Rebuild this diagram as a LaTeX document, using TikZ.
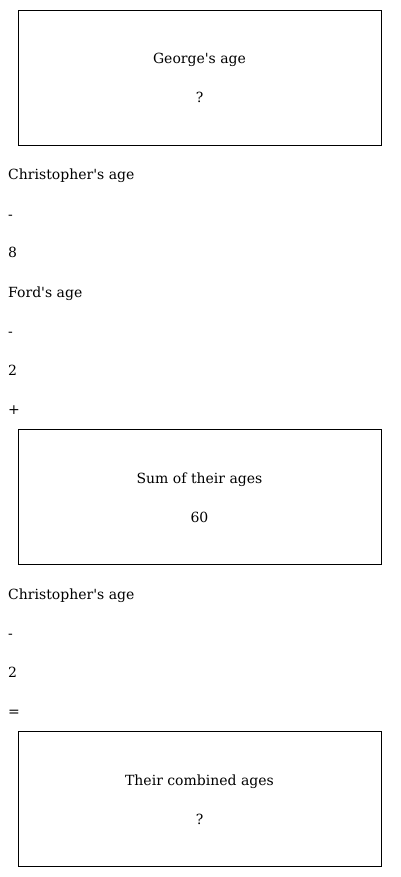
\documentclass[tikz,border=0pt]{standalone}
\usepackage{fontspec}
\setmainfont{DejaVu Serif}
\usepackage{tikz}
\usetikzlibrary{positioning}
\tikzset{
  agebox/.style={draw=black, thick, minimum width=363pt, minimum height=135pt, inner sep=0pt},
  boxtxt/.style={font=\fontsize{14}{16}\selectfont, inner sep=0pt, anchor=base},
  steptxt/.style={font=\fontsize{14}{16}\selectfont, anchor=base west, inner sep=0pt},
}
\newcommand{\apos}{\textquotesingle}

\begin{document}
\begin{tikzpicture}[x=1pt, y=-1pt]
  \useasboundingbox (0,0) rectangle (400,877);
  % first box
  \node[agebox] (george) at (199.5,77.5) {};
  \node[boxtxt] (georgeT) at (199.5,64) {George\apos s age};
  \node[boxtxt] (georgeV) at (199.5,103) {?};
  % expression for the sum
  \node[steptxt] (chrisA) at (8,180) {Christopher\apos s age};
  \node[steptxt] (minA) at (8,220) {-};
  \node[steptxt] (eight) at (8,258) {8};
  \node[steptxt] (ford) at (8,297) {Ford\apos s age};
  \node[steptxt] (minB) at (8,336) {-};
  \node[steptxt] (twoA) at (8,375) {2};
  \node[steptxt] (plus) at (8,414) {+};
  % second box
  \node[agebox] (sum) at (199.5,496.5) {};
  \node[boxtxt] (sumT) at (199.5,483) {Sum of their ages};
  \node[boxtxt] (sumV) at (199.5,522) {60};
  % second expression
  \node[steptxt] (chrisB) at (8,599) {Christopher\apos s age};
  \node[steptxt] (minC) at (8,638) {-};
  \node[steptxt] (twoB) at (8,677) {2};
  \node[steptxt] (equal) at (8,716) {=};
  % last box
  \node[agebox] (combined) at (199.5,798.5) {};
  \node[boxtxt] (combT) at (199.5,785) {Their combined ages};
  \node[boxtxt] (combV) at (199.5,824) {?};
\end{tikzpicture}
\end{document}
